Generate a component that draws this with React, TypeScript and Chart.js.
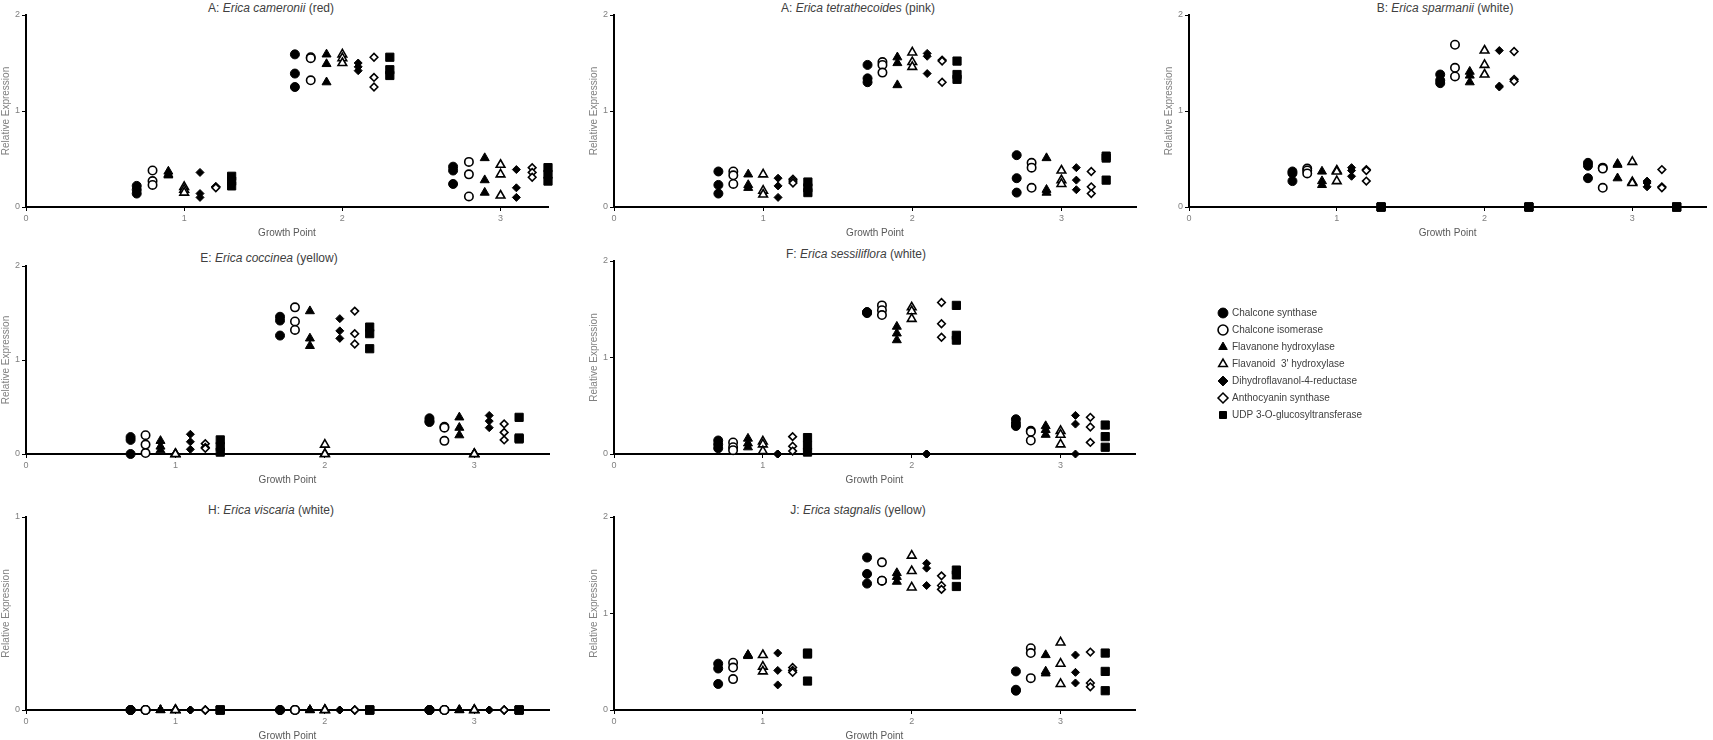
import { useEffect, useRef } from "react";
import { Chart, registerables } from "chart.js";

Chart.register(...registerables);

const FONT = "'Liberation Sans', Arial, sans-serif";

const genes = [
  "Chalcone synthase",
  "Chalcone isomerase",
  "Flavanone hydroxylase",
  "Flavanoid  3' hydroxylase",
  "Dihydroflavanol-4-reductase",
  "Anthocyanin synthase",
  "UDP 3-O-glucosyltransferase",
];
const growthPoints = [1, 2, 3];
const geneOffsets = [-0.3, -0.2, -0.1, 0, 0.1, 0.2, 0.3];

// relative expression, one row per gene: 3 replicates at growth point 1, then 2, then 3
const cameronii = [
  [0.22, 0.18, 0.14, 1.59, 1.39, 1.25, 0.42, 0.38, 0.24],
  [0.38, 0.27, 0.23, 1.56, 1.55, 1.32, 0.47, 0.34, 0.11],
  [0.37, 0.34, 0.33, 1.59, 1.49, 1.3, 0.51, 0.28, 0.15],
  [0.21, 0.18, 0.15, 1.59, 1.55, 1.5, 0.44, 0.34, 0.12],
  [0.36, 0.14, 0.1, 1.5, 1.46, 1.42, 0.39, 0.2, 0.1],
  [0.21, 0.21, 0.2, 1.56, 1.35, 1.25, 0.41, 0.36, 0.31],
  [0.32, 0.27, 0.22, 1.56, 1.43, 1.37, 0.41, 0.34, 0.27],
];
const tetrathecoides = [
  [0.37, 0.23, 0.14, 1.48, 1.34, 1.3, 0.54, 0.3, 0.15],
  [0.37, 0.33, 0.24, 1.51, 1.48, 1.4, 0.46, 0.41, 0.2],
  [0.34, 0.23, 0.2, 1.56, 1.5, 1.27, 0.51, 0.18, 0.15],
  [0.34, 0.17, 0.13, 1.61, 1.51, 1.46, 0.38, 0.28, 0.24],
  [0.3, 0.22, 0.1, 1.6, 1.57, 1.39, 0.41, 0.28, 0.18],
  [0.29, 0.27, 0.25, 1.53, 1.52, 1.3, 0.37, 0.21, 0.14],
  [0.26, 0.2, 0.15, 1.52, 1.38, 1.33, 0.53, 0.51, 0.28],
];
const sparmanii = [
  [0.37, 0.35, 0.27, 1.38, 1.32, 1.29, 0.46, 0.43, 0.3],
  [0.4, 0.38, 0.35, 1.69, 1.45, 1.36, 0.41, 0.4, 0.2],
  [0.37, 0.27, 0.23, 1.41, 1.37, 1.3, 0.45, 0.44, 0.3],
  [0.38, 0.37, 0.27, 1.63, 1.48, 1.38, 0.47, 0.26, 0.25],
  [0.41, 0.38, 0.32, 1.63, 1.26, 1.25, 0.27, 0.25, 0.21],
  [0.39, 0.38, 0.27, 1.62, 1.33, 1.31, 0.39, 0.21, 0.2],
  [0, 0, 0, 0, 0, 0, 0, 0, 0],
];
const coccinea = [
  [0.18, 0.15, 0, 1.46, 1.42, 1.26, 0.38, 0.35, 0.34],
  [0.2, 0.1, 0.01, 1.56, 1.41, 1.32, 0.29, 0.28, 0.14],
  [0.14, 0.08, 0.04, 1.52, 1.23, 1.15, 0.39, 0.28, 0.2],
  [0, 0, 0, 0.1, 0, 0, 0, 0, 0],
  [0.21, 0.13, 0.05, 1.44, 1.31, 1.23, 0.41, 0.35, 0.28],
  [0.11, 0.07, 0.06, 1.52, 1.28, 1.17, 0.32, 0.23, 0.15],
  [0.15, 0.08, 0.02, 1.35, 1.28, 1.12, 0.39, 0.17, 0.16],
];
const sessiliflora = [
  [0.14, 0.1, 0.06, 1.47, 1.47, 1.46, 0.36, 0.32, 0.29],
  [0.12, 0.07, 0.04, 1.54, 1.49, 1.44, 0.24, 0.23, 0.14],
  [0.16, 0.11, 0.07, 1.32, 1.25, 1.18, 0.29, 0.25, 0.2],
  [0.13, 0.1, 0.03, 1.52, 1.48, 1.4, 0.24, 0.2, 0.1],
  [0, 0, 0, 0, 0, 0, 0.4, 0.31, 0],
  [0.18, 0.08, 0.03, 1.57, 1.35, 1.21, 0.38, 0.28, 0.12],
  [0.17, 0.09, 0.02, 1.54, 1.23, 1.18, 0.3, 0.18, 0.07],
];
const viscaria = [
  [0, 0, 0, 0, 0, 0, 0, 0, 0],
  [0, 0, 0, 0, 0, 0, 0, 0, 0],
  [0, 0, 0, 0, 0, 0, 0, 0, 0],
  [0, 0, 0, 0, 0, 0, 0, 0, 0],
  [0, 0, 0, 0, 0, 0, 0, 0, 0],
  [0, 0, 0, 0, 0, 0, 0, 0, 0],
  [0, 0, 0, 0, 0, 0, 0, 0, 0],
];
const stagnalis = [
  [0.48, 0.43, 0.27, 1.58, 1.41, 1.31, 0.4, 0.21, 0.2],
  [0.49, 0.44, 0.32, 1.53, 1.34, 1.34, 0.64, 0.59, 0.33],
  [0.57, 0.57, 0.56, 1.42, 1.38, 1.33, 0.57, 0.4, 0.38],
  [0.57, 0.45, 0.4, 1.6, 1.44, 1.27, 0.7, 0.48, 0.27],
  [0.59, 0.41, 0.26, 1.52, 1.47, 1.29, 0.57, 0.39, 0.28],
  [0.44, 0.41, 0.39, 1.39, 1.29, 1.25, 0.6, 0.28, 0.24],
  [0.59, 0.58, 0.3, 1.45, 1.4, 1.28, 0.59, 0.4, 0.2],
];

// marker look per gene (filled / hollow)
const markers = [
  { style: "circle", filled: true, r: 4.5 },
  { style: "circle", filled: false, r: 4.2 },
  { style: "triangle", filled: true, r: 5.2 },
  { style: "triangle", filled: false, r: 5 },
  { style: "rectRot", filled: true, r: 4 },
  { style: "rectRot", filled: false, r: 3.8 },
  { style: "rect", filled: true, r: 5.8 },
];

const markerProps = (i: number) => {
  const m = markers[i];
  return {
    pointStyle: m.style,
    pointRadius: m.r,
    backgroundColor: m.filled ? "#000" : "#fff",
    borderColor: "#000",
    borderWidth: m.filled ? 1 : 1.6,
  };
};

const Y_W = 26;
const PAD_T = 8;
const X_H = 33;

const panels = [
  { letter: "A", species: "Erica cameronii", colour: "red", values: cameronii, yMax: 2, xMax: 3.3,
    axisLeft: 26, axisRight: 548, plotTop: 15, zero: 207, titleX: 271, titleY: 8 },
  { letter: "A", species: "Erica tetrathecoides", colour: "pink", values: tetrathecoides, yMax: 2, xMax: 3.5,
    axisLeft: 614, axisRight: 1136, plotTop: 15, zero: 207, titleX: 858, titleY: 8 },
  { letter: "B", species: "Erica sparmanii", colour: "white", values: sparmanii, yMax: 2, xMax: 3.5,
    axisLeft: 1189, axisRight: 1713, plotTop: 15, zero: 207, titleX: 1445, titleY: 8 },
  { letter: "E", species: "Erica coccinea", colour: "yellow", values: coccinea, yMax: 2, xMax: 3.5,
    axisLeft: 26, axisRight: 549, plotTop: 266, zero: 454, titleX: 269, titleY: 258 },
  { letter: "F", species: "Erica sessiliflora", colour: "white", values: sessiliflora, yMax: 2, xMax: 3.5,
    axisLeft: 614, axisRight: 1135, plotTop: 261, zero: 454, titleX: 856, titleY: 254 },
  { letter: "H", species: "Erica viscaria", colour: "white", values: viscaria, yMax: 1, xMax: 3.5,
    axisLeft: 26, axisRight: 549, plotTop: 517, zero: 710, titleX: 271, titleY: 510 },
  { letter: "J", species: "Erica stagnalis", colour: "yellow", values: stagnalis, yMax: 2, xMax: 3.5,
    axisLeft: 614, axisRight: 1135, plotTop: 517, zero: 710, titleX: 858, titleY: 510 },
];

type PanelSpec = (typeof panels)[number];

function Panel({ p }: { p: PanelSpec }) {
  const ref = useRef<HTMLCanvasElement>(null);
  const left = p.axisLeft - Y_W;
  const top = p.plotTop - PAD_T;
  const padRight = p.axisRight >= 1713 ? 0 : 8;
  const width = p.axisRight - left + padRight;
  const height = p.zero - top + X_H;

  useEffect(() => {
    if (!ref.current) return;
    const datasets = genes.map((g, gi) => ({
      label: g,
      data: p.values[gi].map((v, k) => ({
        x: growthPoints[Math.floor(k / 3)] + geneOffsets[gi],
        y: v,
      })),
      clip: false as const,
      ...markerProps(gi),
    }));
    const chart = new Chart(ref.current, {
      type: "scatter",
      data: { datasets },
      options: {
        animation: false,
        responsive: true,
        maintainAspectRatio: false,
        layout: { padding: { left: 0, top: PAD_T, right: padRight, bottom: 0 } },
        plugins: { legend: { display: false }, tooltip: { enabled: false } },
        scales: {
          x: {
            type: "linear",
            min: 0,
            max: p.xMax,
            afterFit: (s: any) => {
              s.height = X_H;
            },
            ticks: { stepSize: 1, includeBounds: false, padding: 2, color: "#808080", font: { family: FONT, size: 9 } },
            grid: { drawOnChartArea: false, drawTicks: true, tickLength: 4, color: "#000" },
            border: { color: "#000", width: 2 },
            title: {
              display: true,
              text: "Growth Point",
              color: "#595959",
              font: { family: FONT, size: 10 },
              padding: { top: 0, bottom: 1 },
            },
          },
          y: {
            min: 0,
            max: p.yMax,
            afterFit: (s: any) => {
              s.width = Y_W;
            },
            ticks: { stepSize: 1, padding: 2, color: "#808080", font: { family: FONT, size: 9 } },
            grid: { drawOnChartArea: false, drawTicks: true, tickLength: 4, color: "#000" },
            border: { color: "#000", width: 2 },
            title: {
              display: true,
              text: "Relative Expression",
              color: "#808080",
              font: { family: FONT, size: 10 },
              padding: { top: 0, bottom: 0 },
            },
          },
        },
      },
    });
    return () => chart.destroy();
  }, []);

  return (
    <>
      <div
        style={{
          position: "absolute",
          left: p.titleX - 200,
          top: p.titleY - 7,
          width: 400,
          lineHeight: "14px",
          textAlign: "center",
          whiteSpace: "nowrap",
          fontFamily: FONT,
          fontSize: 12,
          color: "#404040",
        }}
      >
        {p.letter}: <i>{p.species}</i> ({p.colour})
      </div>
      <div style={{ position: "absolute", left, top, width, height }}>
        <canvas ref={ref} />
      </div>
    </>
  );
}

function Legend() {
  const ref = useRef<HTMLCanvasElement>(null);
  useEffect(() => {
    if (!ref.current) return;
    const chart = new Chart(ref.current, {
      type: "scatter",
      data: { datasets: genes.map((g, gi) => ({ label: g, data: [], ...markerProps(gi) })) },
      options: {
        animation: false,
        responsive: true,
        maintainAspectRatio: false,
        layout: { padding: 0 },
        scales: { x: { display: false }, y: { display: false } },
        plugins: {
          tooltip: { enabled: false },
          legend: {
            position: "left",
            align: "start",
            maxWidth: 300,
            labels: {
              usePointStyle: true,
              boxWidth: 8,
              boxHeight: 7,
              padding: 7,
              color: "#404040",
              font: { family: FONT, size: 10 },
            },
          },
        },
      },
    });
    return () => chart.destroy();
  }, []);
  return (
    <div style={{ position: "absolute", left: 1212, top: 301, width: 320, height: 130 }}>
      <canvas ref={ref} />
    </div>
  );
}

export default function App() {
  return (
    <div
      style={{
        position: "absolute",
        left: 0,
        top: 0,
        width: 1713,
        height: 740,
        overflow: "hidden",
        background: "#fff",
      }}
    >
      {panels.map((p, i) => (
        <Panel key={i} p={p} />
      ))}
      <Legend />
    </div>
  );
}
